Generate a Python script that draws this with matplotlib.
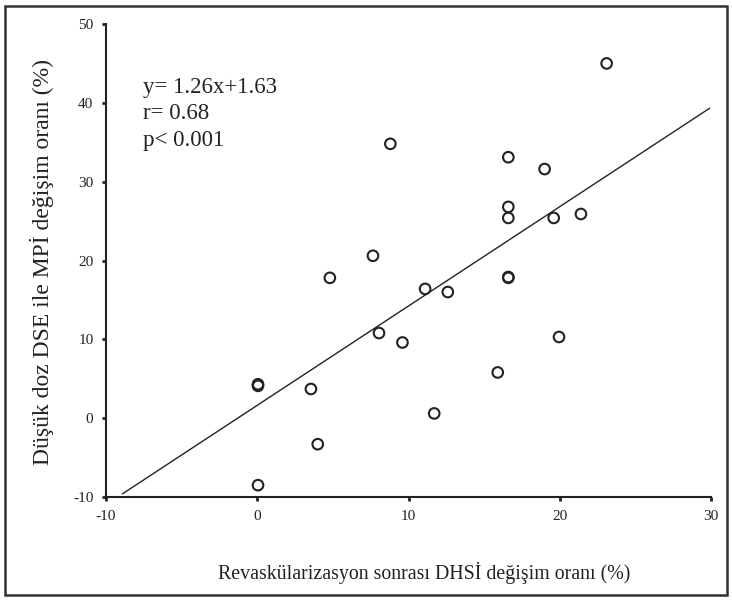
import matplotlib
matplotlib.use("Agg")
import matplotlib.pyplot as plt
from matplotlib.patches import Rectangle
import numpy as np

# Data
x_vals = [23.1, 16.6, 19.0, 16.6, 16.6, 19.6, 21.4, 8.8, 7.65, 4.8, 11.1, 12.6,
          16.6, 16.6, 8.05, 9.6, 19.95, 15.9, 0.05, 0.05, 3.55, 11.7, 4.0, 0.05]
y_vals = [45.0, 33.1, 31.6, 26.8, 25.4, 25.4, 25.9, 34.8, 20.6, 17.8, 16.4, 16.0,
          17.8, 17.9, 10.8, 9.6, 10.3, 5.8, 4.1, 4.3, 3.7, 0.6, -3.3, -8.5]
slope = 1.26
intercept = 1.63
line_x = [-8.9, 29.9]
x_ticks = [-10, 0, 10, 20, 30]
y_ticks = [-10, 0, 10, 20, 30, 40, 50]
stats_lines = ["y= 1.26x+1.63", "r= 0.68", "p< 0.001"]
xlabel = "Revaskülarizasyon sonrası DHSİ değişim oranı (%)"
ylabel = "Düşük doz DSE ile MPİ değişim oranı (%)"

plt.rcParams['font.family'] = ['Liberation Serif', 'DejaVu Serif']
plt.rcParams['axes.unicode_minus'] = False

W, H = 732, 601
fig = plt.figure(figsize=(W / 100, H / 100), dpi=100)
ax = fig.add_axes([106 / W, 1 - 497 / H, (711 - 106) / W, (497 - 24) / H])

ax.scatter(x_vals, y_vals, s=58, facecolors='none', edgecolors='#222222',
           linewidths=1.5, zorder=3)
lx = np.array(line_x)
ax.plot(lx, slope * lx + intercept, color='#222222', lw=1.0, zorder=2)

ax.set_xlim(-10, 30)
ax.set_ylim(-10, 50)
ax.set_xticks(x_ticks)
ax.set_yticks(y_ticks)
ax.spines['top'].set_visible(False)
ax.spines['right'].set_visible(False)
for s in ('left', 'bottom'):
    ax.spines[s].set_linewidth(1.5)
    ax.spines[s].set_color('#222222')
ax.tick_params(direction='out', length=3, width=2, labelsize=11,
               colors='#222222', pad=6)

ax.set_xlabel(xlabel, fontsize=14.3, color='#222222', va='center')
ax.xaxis.set_label_coords((424 - 106) / 605, (497 - 573) / 473)
ax.set_ylabel(ylabel, fontsize=17, color='#222222', va='center')
ax.yaxis.set_label_coords((42 - 106) / 605, (497 - 262) / 473)

for i, t in enumerate(stats_lines):
    ax.text(-7.55, 42.0 - i * 3.4, t, fontsize=16.5, ha='left', va='center',
            color='#222222')

fig.patches.append(Rectangle((5 / W, 6 / H), (727 - 5) / W, (595 - 6) / H,
                             transform=fig.transFigure, fill=False,
                             edgecolor='#333333', linewidth=1.8))

fig.savefig("out.png", dpi=100)
